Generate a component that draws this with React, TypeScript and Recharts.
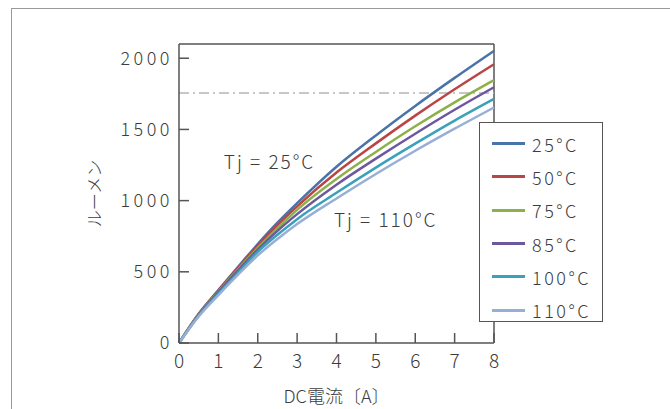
import {
  LineChart,
  Line,
  XAxis,
  YAxis,
  ReferenceLine,
  ReferenceDot,
  Legend,
} from "recharts";

// DC current (A)
const current = [0, 0.5, 1, 1.5, 2, 2.5, 3, 4, 5, 6, 7, 8];

// luminous flux (lm) per junction temperature
const temps = ["25°C", "50°C", "75°C", "85°C", "100°C", "110°C"];
const lm25 = [0, 205, 372, 535, 695, 845, 982, 1238, 1458, 1665, 1862, 2052];
const lm50 = [0, 203, 368, 528, 684, 828, 960, 1197, 1402, 1597, 1782, 1958];
const lm75 = [0, 200, 362, 518, 668, 805, 935, 1152, 1342, 1522, 1690, 1846];
const lm85 = [0, 197, 357, 510, 656, 787, 905, 1112, 1295, 1470, 1638, 1796];
const lm100 = [0, 192, 346, 494, 640, 760, 870, 1055, 1232, 1400, 1562, 1714];
const lm110 = [0, 187, 337, 480, 615, 730, 835, 1015, 1187, 1350, 1505, 1654];
const series = [lm25, lm50, lm75, lm85, lm100, lm110];
const colors = ["#4a74a8", "#b94545", "#8db14a", "#6d589e", "#3ba0b9", "#97afd6"];

const xTicks = [0, 1, 2, 3, 4, 5, 6, 7, 8];
const yTicks = [0, 500, 1000, 1500, 2000];
const xMax = 8;
const yMax = 2100;
const ratedFlux = 1755;

const data = current.map((a, i) => {
  const row: Record<string, number> = { a };
  temps.forEach((t, k) => (row[t] = series[k][i]));
  return row;
});

const font = "'Noto Sans CJK JP', 'Noto Sans', sans-serif";
const textColor = "#3c3c3c";
const axisColor = "#555";

const YTick = ({ x, y, payload }: any) => (
  <g>
    <line x1={x + 9} x2={x + 19} y1={y} y2={y} stroke={axisColor} strokeWidth={1.5} />
    <text
      x={x + 3}
      y={y}
      dy="0.36em"
      textAnchor="end"
      fontSize={18}
      fontWeight={300}
      letterSpacing={3.5}
      fill={textColor}
      fontFamily={font}>
      {payload.value}
    </text>
  </g>
);

const XTick = ({ x, y, payload }: any) => (
  <g>
    <line x1={x} x2={x} y1={y - 12} y2={y - 22} stroke={axisColor} strokeWidth={1.5} />
    <text
      x={x}
      y={y}
      dy="0.71em"
      textAnchor="middle"
      fontSize={19}
      fontWeight={300}
      fill={textColor}
      fontFamily={font}>
      {payload.value}
    </text>
  </g>
);

const LegendBox = () => (
  <div
    style={{
      width: "100%",
      height: "100%",
      boxSizing: "border-box",
      border: `1.5px solid ${axisColor}`,
      background: "#fff",
      paddingTop: 4,
      fontFamily: font,
    }}>
    {temps.map((t, k) => (
      <div key={t} style={{ display: "flex", alignItems: "center", height: 33.3 }}>
        <span
          style={{
            display: "inline-block",
            width: 33,
            height: 3,
            marginLeft: 12,
            marginRight: 7,
            background: colors[k],
          }}
        />
        <span
          style={{
            fontSize: 18,
            fontWeight: 300,
            letterSpacing: 2.5,
            color: textColor,
          }}>
          {t}
        </span>
      </div>
    ))}
  </div>
);

const noteStyle = {
  position: "center" as const,
  fontSize: 19,
  fontWeight: 300,
  letterSpacing: 2,
  fill: textColor,
  fontFamily: font,
};

export default function App() {
  return (
    <div
      style={{
        position: "absolute",
        left: 0,
        top: 0,
        width: 670,
        height: 409,
        background: "#fff",
        overflow: "hidden",
      }}>
      <div
        style={{
          position: "absolute",
          left: 11,
          top: 8,
          right: -10,
          bottom: -10,
          borderLeft: "1.5px solid #999",
          borderTop: "1.5px solid #999",
        }}
      />
      <LineChart
        width={670}
        height={409}
        data={data}
        margin={{ top: 44, right: 176, bottom: 36, left: 119 }}>
        <XAxis
          dataKey='a'
          type='number'
          domain={[0, xMax]}
          ticks={xTicks}
          interval={0}
          height={30}
          axisLine={{ stroke: axisColor, strokeWidth: 1.5 }}
          tickLine={false}
          tickSize={0}
          tickMargin={12}
          tick={<XTick />}
          label={{
            value: "DC電流〔A〕",
            position: "bottom",
            offset: 17,
            fontSize: 18,
            fontWeight: 300,
            fill: textColor,
            fontFamily: font,
          }}
        />
        <XAxis
          xAxisId='top'
          orientation='top'
          type='number'
          domain={[0, xMax]}
          height={0}
          tick={false}
          tickLine={false}
          axisLine={false}
          label={(props: any) => (
            <text
              x={props.viewBox.x + props.viewBox.width / 2 - 13}
              y={props.viewBox.y - 17}
              textAnchor='middle'
              fontSize={15}
              fontWeight={300}
              fill={textColor}
              fontFamily={font}>
              LEDフラックス
            </text>
          )}
        />
        <YAxis
          type='number'
          domain={[0, yMax]}
          ticks={yTicks}
          interval={0}
          width={60}
          axisLine={{ stroke: axisColor, strokeWidth: 1.5 }}
          tickLine={false}
          tickSize={0}
          tickMargin={9}
          tick={<YTick />}
          label={(props: any) => (
            <text
              x={props.viewBox.x - 24}
              y={props.viewBox.y + props.viewBox.height / 2}
              transform={`rotate(-90, ${props.viewBox.x - 24}, ${
                props.viewBox.y + props.viewBox.height / 2
              })`}
              textAnchor='middle'
              dy='0.36em'
              fontSize={17}
              fontWeight={300}
              fill={textColor}
              fontFamily={font}>
              ルーメン
            </text>
          )}
        />
        <ReferenceLine y={yMax} stroke={axisColor} strokeWidth={1.5} />
        <ReferenceLine x={xMax} stroke={axisColor} strokeWidth={1.5} />
        <ReferenceLine
          y={ratedFlux}
          stroke='#b5b5b5'
          strokeWidth={1.5}
          strokeDasharray='10 4 2 4'
        />
        {temps.map((t, k) => (
          <Line
            key={t}
            type='monotone'
            dataKey={t}
            stroke={colors[k]}
            strokeWidth={2.5}
            dot={false}
            isAnimationActive={false}
          />
        ))}
        <ReferenceDot
          x={2.3}
          y={1270}
          r={0}
          label={{ value: "Tj = 25°C", ...noteStyle }}
        />
        <ReferenceDot
          x={5.25}
          y={860}
          r={0}
          label={{ value: "Tj = 110°C", ...noteStyle }}
        />
        <Legend
          layout='vertical'
          align='center'
          verticalAlign='middle'
          content={<LegendBox />}
          wrapperStyle={{ left: 479, top: 122, width: 124, height: 200 }}
        />
      </LineChart>
    </div>
  );
}
